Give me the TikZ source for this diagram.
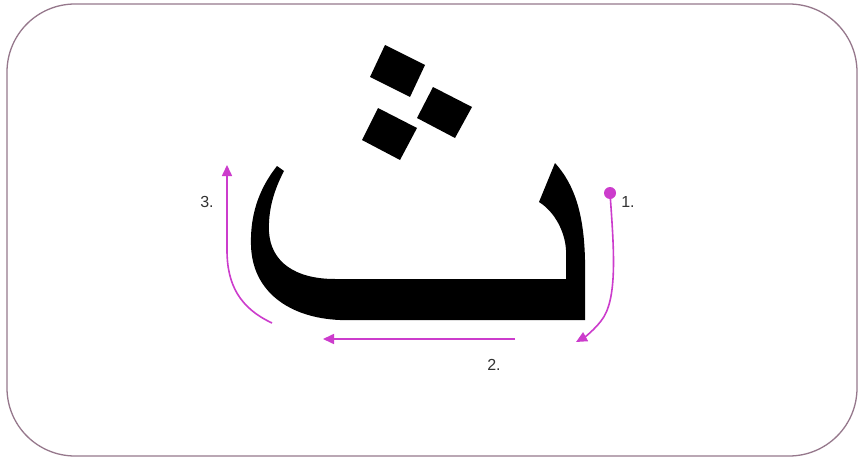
\documentclass[tikz,border=0pt]{standalone}
\usepackage{fontspec}
\setmainfont{Liberation Sans}
\usetikzlibrary{arrows.meta}
\definecolor{framec}{RGB}{150,120,140}
\definecolor{mag}{RGB}{204,60,204}
\definecolor{labc}{RGB}{50,50,50}
\tikzset{
  stroke/.style={draw=mag, line width=1.6pt, -{Triangle[length=11pt,width=10pt]}},
  lab/.style={text=labc, font=\fontsize{16}{17}\selectfont, inner sep=0pt},
  dotsq/.style={fill=black, draw=none}
}
\begin{document}
\begin{tikzpicture}[x=1pt,y=-1pt]
\useasboundingbox (0,0) rectangle (862,460);
\fill[white] (0,0) rectangle (862,460);
% frame
\draw[framec, line width=1.3pt, rounded corners=68pt] (7,4) rectangle (857,456);
% letter body
\fill[black] (555,163) .. controls (575,185) and (584,215) .. (585,260) -- (585,320) -- (340,320)
  .. controls (290,318) and (252,292) .. (251,245)
  .. controls (250,210) and (262,185) .. (277,166) -- (284,171)
  .. controls (274,190) and (268,210) .. (269,232)
  .. controls (271,262) and (295,279) .. (335,279) -- (566,279) -- (566,250)
  .. controls (565,232) and (555,212) .. (539,202) -- cycle;
% dots
\fill[dotsq] (385,45) -- (425,65) -- (410,97) -- (370,77) -- cycle;
\fill[dotsq] (433,87) -- (472,107) -- (455,138) -- (417,118) -- cycle;
\fill[dotsq] (378,108) -- (417,128) -- (400,160) -- (362,140) -- cycle;
% stroke order coordinates
\coordinate (s1) at (610,193);
\coordinate (e1) at (576,342);
\coordinate (s2) at (515,339);
\coordinate (e2) at (323,339);
\coordinate (s3) at (272,323);
\coordinate (e3) at (227,165);
% arrows
\fill[mag] (s1) circle (6pt);
\draw[stroke] (s1) .. controls (614,250) and (618,300) .. (601,321) .. controls (594,330) and (585,337) .. (e1);
\draw[stroke] (s2) -- (e2);
\draw[stroke] (s3) .. controls (240,308) and (227,285) .. (227,250) -- (e3);
% labels
\node[lab] (l1) at (628,202) {1.};
\node[lab] (l2) at (494,365) {2.};
\node[lab] (l3) at (207,202) {3.};
\end{tikzpicture}
\end{document}
